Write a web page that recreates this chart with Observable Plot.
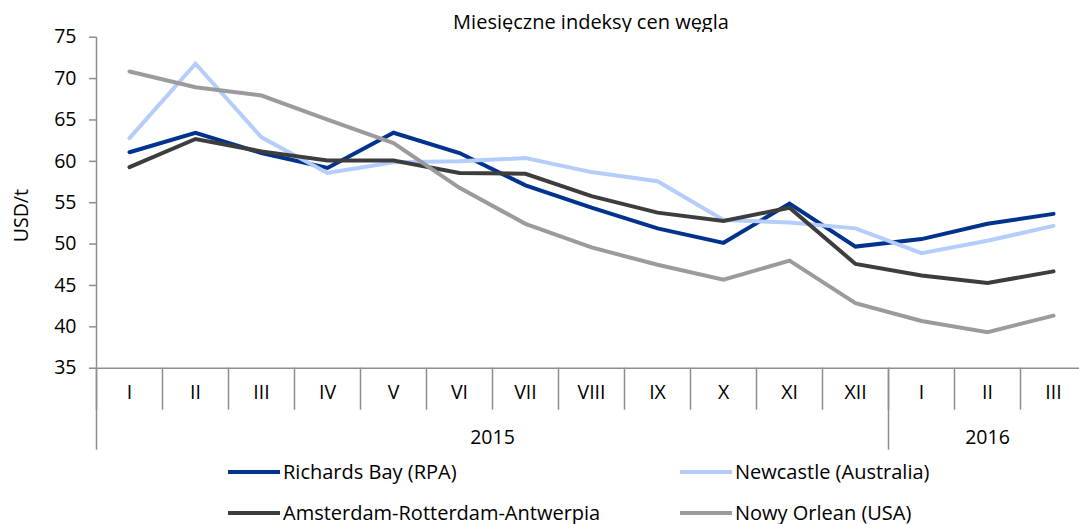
<!DOCTYPE html>
<html>
<head>
<meta charset="utf-8">
<script src="https://cdn.jsdelivr.net/npm/d3@7"></script>
<script src="https://cdn.jsdelivr.net/npm/@observablehq/plot@0.6"></script>
<style>
  html, body { margin: 0; padding: 0; background: #fff; overflow: hidden; }
  body { width: 1079px; height: 524px; position: relative; font-family: "Open Sans", sans-serif; font-weight: 500; color: #000; }
  #title { position: absolute; left: 96px; width: 990px; top: 11px; height: 22px; line-height: 22px; text-align: center; font-size: 20px; }
  #chart { position: absolute; left: 0; top: 32px; }
  #legend { position: absolute; left: 0; top: 457px; width: 1079px; height: 67px; }
  .item { position: absolute; display: flex; align-items: center; height: 20px; line-height: 20px; font-size: 20px; white-space: nowrap; }
  .sw { width: 52px; height: 4px; margin-right: 3px; }
</style>
</head>
<body>
<div id="title"></div>
<div id="chart"></div>
<div id="legend"></div>
<script>
const titleText = "Miesięczne indeksy cen węgla";
const yLabel = "USD/t";
const months = ["I","II","III","IV","V","VI","VII","VIII","IX","X","XI","XII","I","II","III"];
const years = ["2015", "2016"];
const monthsPerYear = [12, 3];
const seriesNames = ["Richards Bay (RPA)", "Newcastle (Australia)", "Amsterdam-Rotterdam-Antwerpia", "Nowy Orlean (USA)"];
const seriesColors = ["#00338d", "#b4cdfa", "#3d3d3d", "#9b9b9b"];
const richardsBay = [61.1, 63.45, 61.0, 59.2, 63.45, 61.0, 57.1, 54.4, 51.9, 50.15, 54.9, 49.7, 50.6, 52.45, 53.65];
const newcastle = [62.8, 71.8, 62.9, 58.6, 59.9, 60.0, 60.4, 58.7, 57.6, 52.9, 52.6, 51.9, 48.9, 50.4, 52.2];
const ara = [59.3, 62.7, 61.2, 60.1, 60.1, 58.6, 58.5, 55.8, 53.8, 52.8, 54.4, 47.6, 46.2, 45.3, 46.7];
const nowyOrlean = [70.85, 68.95, 67.95, 65.05, 62.2, 56.8, 52.45, 49.6, 47.5, 45.7, 48.0, 42.85, 40.7, 39.35, 41.35];
const yTicks = [35, 40, 45, 50, 55, 60, 65, 70, 75];

const seriesValues = [richardsBay, newcastle, ara, nowyOrlean];
const rows = seriesNames.flatMap((name, s) => seriesValues[s].map((v, i) => ({ idx: i + 0.5, value: v, name })));

const n = months.length;
let acc = 0;
const yearStarts = [], yearCenters = [];
monthsPerYear.forEach(m => { yearStarts.push(acc); yearCenters.push(acc + m / 2); acc += m; });

const gray = "#8e8e8e";
const font = "'Open Sans', sans-serif";
const fs = 19.5;

document.getElementById("title").textContent = titleText;

const chart = Plot.plot({
  width: 1079,
  height: 425,
  marginLeft: 96,
  marginRight: -7,
  marginTop: 4.7,
  marginBottom: 89.3,
  x: { domain: [0, n], axis: null },
  y: { domain: [35, 75], axis: null },
  color: { domain: seriesNames, range: seriesColors },
  style: { fontFamily: font, fontSize: fs + "px", fontWeight: 500, color: "#000", background: "#fff", overflow: "visible" },
  marks: [
    Plot.ruleX([0], { stroke: gray, strokeWidth: 1.5 }),
    Plot.ruleY([35], { stroke: gray, strokeWidth: 1.5 }),
    Plot.axisY({ ticks: yTicks, tickSize: 7, tickPadding: 13, stroke: gray, strokeWidth: 1.5, fill: "#000",
      label: null, fontSize: fs }),
    Plot.text([yLabel], { frameAnchor: "left", rotate: -90, dx: -75, dy: 13, textAnchor: "middle", lineAnchor: "middle", fontSize: fs, fill: "#000" }),
    Plot.axisX({ ticks: d3.range(0, n + 1), tickSize: 42, tickFormat: () => "", stroke: gray, strokeWidth: 1.5, label: null }),
    Plot.axisX({ ticks: yearStarts, tickSize: 82, tickFormat: () => "", stroke: gray, strokeWidth: 1.5, label: null }),
    Plot.axisX({ ticks: d3.range(n).map(i => i + 0.5), tickSize: 0, tickPadding: 17,
      tickFormat: d => months[Math.floor(d)], fill: "#000", label: null, fontSize: fs }),
    Plot.axisX({ ticks: yearCenters, tickSize: 0, tickPadding: 62,
      tickFormat: d => years[yearCenters.indexOf(d)], fill: "#000", label: null, fontSize: fs }),
    Plot.lineY(rows, { x: "idx", y: "value", z: "name", stroke: "name", strokeWidth: 4, strokeLinejoin: "miter", strokeMiterlimit: 2 })
  ]
});
document.getElementById("chart").appendChild(chart);

const legend = document.getElementById("legend");
const colLefts = [228, 680];
const rowTops = [5, 46];
seriesNames.forEach((name, k) => {
  const it = document.createElement("div");
  it.className = "item";
  it.style.left = colLefts[k % 2] + "px";
  it.style.top = rowTops[Math.floor(k / 2)] + "px";
  const sw = document.createElement("div");
  sw.className = "sw";
  sw.style.background = seriesColors[k];
  const tx = document.createElement("span");
  tx.textContent = name;
  it.appendChild(sw);
  it.appendChild(tx);
  legend.appendChild(it);
});
</script>
</body>
</html>
